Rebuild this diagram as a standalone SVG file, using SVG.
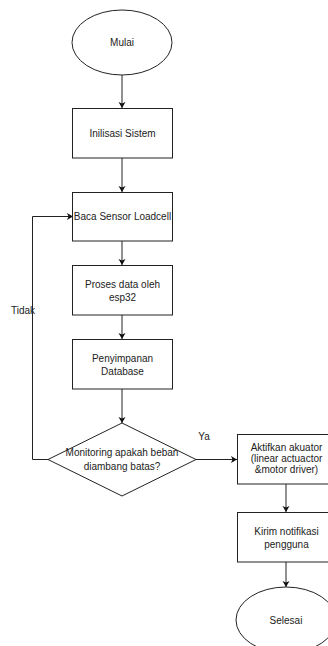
<svg xmlns="http://www.w3.org/2000/svg" width="328" height="646" viewBox="0 0 328 646">
<defs>
<marker id="arr" markerUnits="userSpaceOnUse" markerWidth="8" markerHeight="8" refX="6" refY="3.5" orient="auto">
<path d="M0,0 L6,3.5 L0,7 L1.5,3.5 z" fill="#111"/>
</marker>
<style>
.shape{fill:#fff;stroke:#222;stroke-width:1}
.edge{fill:none;stroke:#222;stroke-width:1;marker-end:url(#arr)}
text{font-family:"Liberation Sans",Arial,sans-serif;font-size:10px;fill:#222;text-anchor:middle}
</style>
</defs>
<rect width="328" height="646" fill="#fff"/>
<g id="connectors">
<path class="edge" d="M122,75 L122,108"/>
<path class="edge" d="M122,158 L122,192"/>
<path class="edge" d="M122,241 L122,265"/>
<path class="edge" d="M122,315 L122,339"/>
<path class="edge" d="M122,389 L122,423"/>
<path class="edge" d="M48,459.5 L32.5,459.5 L32.5,216.5 L73,216.5"/>
<path class="edge" d="M196,459.5 L237,459.5"/>
<path class="edge" d="M286,484 L286,512"/>
<path class="edge" d="M286,562 L286,587"/>
<text x="23" y="313.5">Tidak</text>
<text x="204" y="440">Ya</text>
</g>
<g id="mulai">
<ellipse class="shape" cx="122" cy="42.5" rx="50" ry="32.5"/>
<text x="122" y="46">Mulai</text>
</g>
<g id="inisialisasi">
<rect class="shape" x="72.5" y="108.5" width="100" height="49.5"/>
<text x="122.5" y="136.5">Inilisasi Sistem</text>
</g>
<g id="baca">
<rect class="shape" x="72.5" y="192.5" width="100" height="48.5"/>
<text x="122.5" y="220">Baca Sensor Loadcell</text>
</g>
<g id="proses">
<rect class="shape" x="72.5" y="265.5" width="100" height="49.5"/>
<text x="122.5" y="287.5">Proses data oleh</text>
<text x="122.5" y="300.5">esp32</text>
</g>
<g id="penyimpanan">
<rect class="shape" x="72.5" y="339.5" width="100" height="49.5"/>
<text x="122.5" y="361.5">Penyimpanan</text>
<text x="122.5" y="374.5">Database</text>
</g>
<g id="monitoring">
<path class="shape" d="M48,459.5 L122,423 L196,459.5 L122,496 Z"/>
<text x="122" y="455.5">Monitoring apakah beban</text>
<text x="122" y="469.5">diambang batas?</text>
</g>
<g id="aktifkan">
<rect class="shape" x="237.5" y="434.5" width="100" height="49.5"/>
<text x="286.5" y="450.5">Aktifkan akuator</text>
<text x="286.5" y="461.5">(linear actuactor</text>
<text x="286.5" y="472.5">&amp;motor driver)</text>
</g>
<g id="kirim">
<rect class="shape" x="237.5" y="512.5" width="100" height="49.5"/>
<text x="286.5" y="534.5">Kirim notifikasi</text>
<text x="286.5" y="547.5">pengguna</text>
</g>
<g id="selesai">
<ellipse class="shape" cx="286" cy="620" rx="50" ry="33"/>
<text x="286" y="623.5">Selesai</text>
</g>
</svg>
